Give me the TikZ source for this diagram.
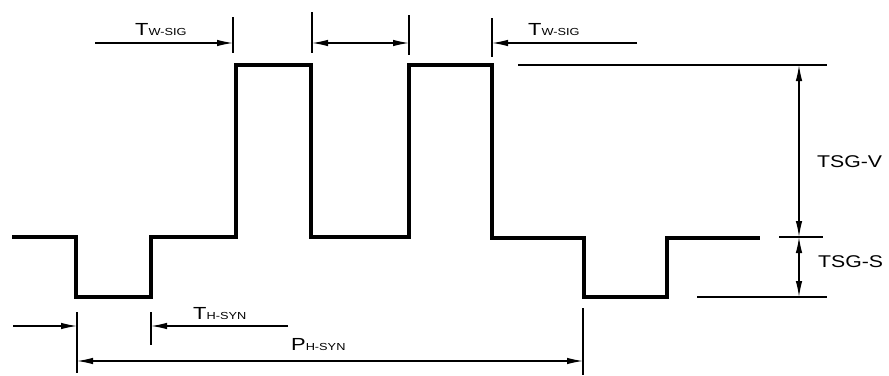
\documentclass[tikz,border=0pt]{standalone}
\usepackage{fontspec}
\setmainfont{Liberation Sans}
\usetikzlibrary{arrows.meta}
\newcommand{\wlbl}[2]{\scalebox{1.25}[1]{\fontsize{17.5}{18}\selectfont #1\fontsize{10.2}{11}\selectfont #2}}
\newcommand{\tlbl}[1]{\scalebox{1.25}[1]{\fontsize{17}{18}\selectfont #1}}
\begin{document}
\begin{tikzpicture}[x=1pt,y=-1pt,
  wave/.style={line width=3.8pt,line join=miter,line cap=butt},
  thinline/.style={line width=1.2pt},
  dimarrow/.style={thinline,-{Latex[length=16pt,width=6.5pt]}},
  dimboth/.style={thinline,{Latex[length=16pt,width=6.5pt]}-{Latex[length=16pt,width=6.5pt]}},
  lab/.style={inner sep=0pt,anchor=base west}]
\useasboundingbox (0,0) rectangle (889,375);
% waveform points
\coordinate (w0) at (12,237);
\coordinate (w1) at (76,237);
\coordinate (w2) at (76,297);
\coordinate (w3) at (151,297);
\coordinate (w4) at (151,237);
\coordinate (w5) at (236,237);
\coordinate (w6) at (236,65);
\coordinate (w7) at (311,65);
\coordinate (w8) at (311,237);
\coordinate (w9) at (409,237);
\coordinate (w10) at (409,65);
\coordinate (w11) at (492,65);
\coordinate (w12) at (492,238);
\coordinate (w13) at (584,238);
\coordinate (w14) at (584,297);
\coordinate (w15) at (667,297);
\coordinate (w16) at (667,238);
\coordinate (w17) at (760,238);
\draw[wave] (w0) -- (w1) -- (w2) -- (w3) -- (w4) -- (w5) -- (w6) -- (w7) -- (w8)
  -- (w9) -- (w10) -- (w11) -- (w12) -- (w13) -- (w14) -- (w15) -- (w16) -- (w17);
% top ticks
\coordinate (tAt) at (233,17); \coordinate (tAb) at (233,53);
\coordinate (tBt) at (312,12); \coordinate (tBb) at (312,53);
\coordinate (tCt) at (409,15); \coordinate (tCb) at (409,55);
\coordinate (tDt) at (492,18); \coordinate (tDb) at (492,57);
\draw[thinline] (tAt) -- (tAb);
\draw[thinline] (tBt) -- (tBb);
\draw[thinline] (tCt) -- (tCb);
\draw[thinline] (tDt) -- (tDb);
\coordinate (aA0) at (95,43); \coordinate (aA1) at (233,43);
\coordinate (aB0) at (312,43); \coordinate (aB1) at (409,43);
\coordinate (aD0) at (637,43); \coordinate (aD1) at (492,43);
\draw[dimarrow] (aA0) -- (aA1);
\draw[dimboth] (aB0) -- (aB1);
\draw[dimarrow] (aD0) -- (aD1);
\node[lab] (twl) at (135,35) {\wlbl{T}{W-SIG}};
\node[lab] (twr) at (528,35) {\wlbl{T}{W-SIG}};
% right side reference lines
\coordinate (r1a) at (518,65); \coordinate (r1b) at (827,65);
\coordinate (r2a) at (779,237); \coordinate (r2b) at (823,237);
\coordinate (r3a) at (697,297); \coordinate (r3b) at (827,297);
\draw[thinline] (r1a) -- (r1b);
\draw[thinline] (r2a) -- (r2b);
\draw[thinline] (r3a) -- (r3b);
\coordinate (v0) at (799,65); \coordinate (v1) at (799,237); \coordinate (v2) at (799,297);
\draw[dimboth] (v0) -- (v1);
\draw[dimboth] (v1) -- (v2);
\node[lab] (tsgv) at (817,167) {\tlbl{TSG-V}};
\node[lab] (tsgs) at (818,267) {\tlbl{TSG-S}};
% bottom ticks
\coordinate (bAt) at (77,312); \coordinate (bAb) at (77,373);
\coordinate (bBt) at (151,312); \coordinate (bBb) at (151,345);
\coordinate (bCt) at (583,308); \coordinate (bCb) at (583,375);
\draw[thinline] (bAt) -- (bAb);
\draw[thinline] (bBt) -- (bBb);
\draw[thinline] (bCt) -- (bCb);
\coordinate (c0) at (13,326); \coordinate (c1) at (77,326);
\coordinate (c2) at (288,326); \coordinate (c3) at (151,326);
\coordinate (c4) at (77,361); \coordinate (c5) at (583,361);
\draw[dimarrow] (c0) -- (c1);
\draw[dimarrow] (c2) -- (c3);
\draw[dimboth] (c4) -- (c5);
\node[lab] (ths) at (193,319) {\wlbl{T}{H-SYN}};
\node[lab] (phs) at (291,350) {\wlbl{P}{H-SYN}};
\end{tikzpicture}
\end{document}
